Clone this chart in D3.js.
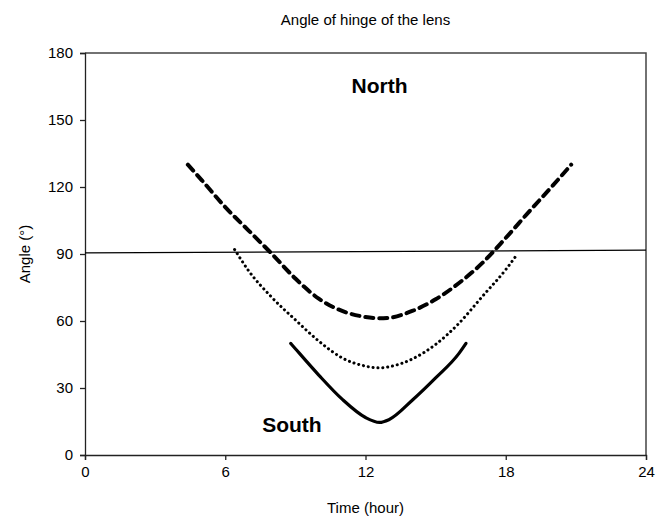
<!DOCTYPE html>
<html>
<head>
<meta charset="utf-8">
<script src="https://cdn.jsdelivr.net/npm/d3@7"></script>
<style>
body { margin: 0; background: #fff; }
svg { font-family: Arial, "Liberation Sans", sans-serif; }
</style>
</head>
<body>
<div id="chart"></div>
<script>
// DATA
var xTicks = [0, 6, 12, 18, 24];
var yTicks = [0, 30, 60, 90, 120, 150, 180];

var hoursDashed = [4.4, 5, 6, 7, 8, 9, 10, 11, 12, 12.6, 13, 14, 15, 16, 17, 18, 19, 20, 20.8];
var angleDashed = [130, 123, 111, 100.5, 90, 79, 70, 64.5, 61.8, 61.2, 61.4, 64.5, 69.7, 77, 86, 97.2, 109, 120.5, 130];

var hoursDotted = [6.4, 7, 8, 9, 10, 11, 12, 12.6, 13, 14, 15, 16, 17, 18, 18.5];
var angleDotted = [92, 82.5, 70.5, 60.5, 51, 43.5, 39.8, 39, 39.5, 43, 49.5, 59, 71, 83, 90];

var hoursSolid = [8.8, 9, 10, 11, 12, 12.6, 13, 14, 15, 16, 16.3];
var angleSolid = [50, 47.6, 35.8, 25, 16.8, 14.6, 15.8, 24.5, 34.5, 45.5, 50];

var refHours = [0, 24];
var refAngle = [90.5, 91.7];

var svg = d3.select("#chart").append("svg")
  .attr("width", 664)
  .attr("height", 519);

var margin = {top: 53, right: 18, bottom: 64, left: 85};
var width = 664 - margin.left - margin.right,
    height = 519 - margin.top - margin.bottom;

var xScale = d3.scaleLinear().domain([0, 24]).range([0, width]);
var yScale = d3.scaleLinear().domain([0, 180]).range([height, 0]);

var g = svg.append("g")
  .attr("transform", `translate(${margin.left}, ${margin.top})`);

// FRAME (top and right)
g.append("path")
  .attr("d", `M0,0H${width}V${height}`)
  .attr("fill", "none")
  .attr("stroke", "#444")
  .attr("stroke-width", 1.5);

// AXES
var xAxis = d3.axisBottom(xScale).tickValues(xTicks).tickSize(5).tickPadding(6);
var yAxis = d3.axisLeft(yScale).tickValues(yTicks).tickSize(5).tickPadding(7);

var gx = g.append("g")
  .attr("transform", `translate(0, ${height})`)
  .call(xAxis);
var gy = g.append("g").call(yAxis);

[gx, gy].forEach(function(a) {
  a.selectAll("path, line").attr("stroke", "#222").attr("stroke-width", 1.3);
  a.selectAll("text")
    .attr("fill", "#000")
    .style("font-size", "15px")
    .style("font-family", "Arial, 'Liberation Sans', sans-serif");
});

function pts(xs, ys) {
  return xs.map(function(x, i) { return [x, ys[i]]; });
}

var line = d3.line()
  .x(function(d) { return xScale(d[0]); })
  .y(function(d) { return yScale(d[1]); })
  .curve(d3.curveMonotoneX);

// 90 DEGREE REFERENCE LINE
g.append("path")
  .datum(pts(refHours, refAngle))
  .attr("d", d3.line().x(function(d) { return xScale(d[0]); }).y(function(d) { return yScale(d[1]); }))
  .attr("fill", "none")
  .attr("stroke", "#000")
  .attr("stroke-width", 1.2);

// CURVES
g.append("path")
  .datum(pts(hoursDashed, angleDashed))
  .attr("d", line)
  .attr("fill", "none")
  .attr("stroke", "#000")
  .attr("stroke-width", 4)
  .attr("stroke-dasharray", "8,6")
  .attr("stroke-linecap", "round");

g.append("path")
  .datum(pts(hoursDotted, angleDotted))
  .attr("d", line)
  .attr("fill", "none")
  .attr("stroke", "#000")
  .attr("stroke-width", 3)
  .attr("stroke-dasharray", "0.1,4.8")
  .attr("stroke-linecap", "round");

g.append("path")
  .datum(pts(hoursSolid, angleSolid))
  .attr("d", line)
  .attr("fill", "none")
  .attr("stroke", "#000")
  .attr("stroke-width", 3.2)
  .attr("stroke-linecap", "round");

// ANNOTATIONS
g.append("text")
  .attr("x", xScale(12.6))
  .attr("y", yScale(162))
  .attr("text-anchor", "middle")
  .style("font-size", "21px")
  .style("font-weight", "bold")
  .text("North");

g.append("text")
  .attr("x", xScale(8.85))
  .attr("y", yScale(10.3))
  .attr("text-anchor", "middle")
  .style("font-size", "21px")
  .style("font-weight", "bold")
  .text("South");

// TITLE AND AXIS LABELS
svg.append("text")
  .attr("x", margin.left + width / 2)
  .attr("y", 25)
  .attr("text-anchor", "middle")
  .style("font-size", "15px")
  .text("Angle of hinge of the lens");

svg.append("text")
  .attr("x", margin.left + width / 2)
  .attr("y", 513)
  .attr("text-anchor", "middle")
  .style("font-size", "15px")
  .text("Time (hour)");

svg.append("text")
  .attr("transform", `translate(30, ${margin.top + height / 2}) rotate(-90)`)
  .attr("text-anchor", "middle")
  .style("font-size", "15px")
  .text("Angle (°)");
</script>
</body>
</html>
